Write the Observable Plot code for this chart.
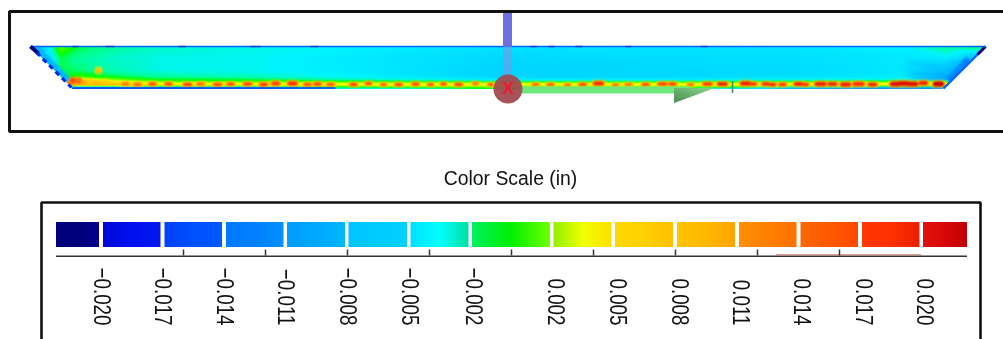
<!DOCTYPE html>
<html>
<head>
<meta charset="utf-8">
<script src="https://cdn.jsdelivr.net/npm/d3@7"></script>
<script src="https://cdn.jsdelivr.net/npm/@observablehq/plot@0.6"></script>
<style>
html,body{margin:0;padding:0;background:#fff;overflow:hidden}
svg{display:block}
</style>
</head>
<body>
<div id="chart"></div>
<script>
// Colour scale (deviation in inches)
const scaleValues = [-0.020,-0.017,-0.014,-0.011,-0.008,-0.005,-0.003,-0.001,0,0.002,0.003,0.005,0.008,0.011,0.014,0.017,0.020];
const scaleColors = ["#00007f","#0010e8","#0050ff","#0088ff","#00acff","#00ccff","#00f4ff","#00ff90","#00ff00","#80ff00","#f0ff00","#ffd000","#ffb000","#ff8000","#ff5000","#ff2800","#c80000"];

// Legend
const labelTexts = ["−0.020","−0.017","−0.014","−0.011","−0.008","−0.005","−0.002","0.002","0.005","0.008","0.011","0.014","0.017","0.020"];
const labelX = [101,162,224,285,347,409,473,555,617,679,740,801,863,924];
const tickX = [183,265,347,429,511,593,675,757,839];
const swatchX1 = [56,103,164.5,226,287,348.5,410.5,472,553.5,615,677,739,800.5,862,923];
const swatchX2 = [99,160.5,222,283.5,345,407,468.5,550,611.5,673,735,796.5,858,919.5,967];
const swatchLeft = ["#000080","#0008d8","#0040f8","#0078ff","#009cff","#00c4ff","#00e0ff","#00f060","#90f000","#ffd800","#ffc400","#ff9000","#ff6800","#ff3800","#e01010"];
const swatchMid = ["#000078","#0010f0","#0050ff","#0080ff","#00a8ff","#00ccff","#00ffff","#00f000","#f0ff00","#ffd000","#ffb800","#ff8000","#ff5800","#ff3000","#d80808"];
const swatchRight = ["#00008c","#0018f0","#0058ff","#0090ff","#00b8ff","#00d0ff","#00e0a0","#70ff00","#ffe000","#ffc000","#ffa400","#ff7000","#ff4800","#e82000","#c00000"];

// Surface deviation field, read on a coarse grid of the picture
const fieldX = [30,60,80,110,160,250,350,500,650,800,900,945,985];
const fieldY = [46,58,70,76,79,81,83,85,87,89];
const fieldRows = [
  [-0.010,0.0015,-0.0005,-0.001,-0.002,-0.0025,-0.003,-0.0038,-0.0038,-0.0036,-0.003,-0.0008,-0.0005],
  [-0.010,-0.0005,-0.0012,-0.002,-0.0026,-0.0028,-0.0035,-0.0044,-0.0042,-0.004,-0.0036,-0.0035,-0.006],
  [-0.010,-0.0005,-0.0008,-0.0016,-0.0026,-0.0028,-0.0034,-0.0046,-0.0044,-0.0042,-0.0036,-0.006,-0.010],
  [-0.008,0,0.0005,-0.0003,-0.0012,-0.0018,-0.003,-0.0045,-0.0044,-0.004,-0.0034,-0.008,-0.010],
  [-0.004,0.003,0.005,0.002,-0.0002,-0.0004,-0.0018,-0.0035,-0.0035,-0.0028,-0.0025,-0.008,-0.010],
  [-0.002,0.008,0.008,0.004,0.0015,0.0008,0.0004,-0.0005,-0.0005,-0.0002,0.0008,0.001,-0.010],
  [0,0.010,0.009,0.006,0.0035,0.0035,0.0035,0.0035,0.0035,0.0035,0.004,0.004,-0.010],
  [0,0.004,0.005,0.005,0.003,0.0028,0.0028,0.0028,0.0028,0.003,0.003,0.003,-0.010],
  [-0.010,-0.004,-0.006,-0.006,-0.006,-0.005,-0.001,0.001,0.001,-0.004,-0.008,-0.008,-0.010],
  [-0.012,-0.012,-0.012,-0.012,-0.012,-0.012,-0.004,0,0,-0.010,-0.012,-0.012,-0.012]
];

// Hot spots along the lower edge
const hotX = [125,137,152,168,187,200,217,230,247,263,275,292,307,317,330,353,368,383,398,415,430,443,458,475,490,
  535,550,567,582,598,615,628,645,662,672,690,707,722,745,753,765,772,782,798,805,820,832,845,858,872,895,903,912,923,938];
const hotY = [83.5,84,83.5,83.5,84,83.5,84,83.5,83.5,84,83,83,84,83.5,84,84,83,84,84,83.5,84,83.5,84,83,84,
  84,84,84.5,84,83,84.5,84,84,83.5,83.5,84,83.5,83.5,83,83.5,83.5,84,84,83.5,84,83.5,83.5,84,83.5,84,83.5,83,83.5,82.5,83.5];
const hotValue = [0.012,0.013,0.015,0.015,0.016,0.013,0.015,0.015,0.016,0.016,0.015,0.017,0.015,0.016,0.014,0.016,0.015,0.014,0.015,0.015,0.015,0.016,0.016,0.013,0.015,
  0.013,0.014,0.013,0.015,0.017,0.013,0.013,0.015,0.016,0.016,0.013,0.017,0.018,0.018,0.017,0.018,0.018,0.017,0.018,0.017,0.018,0.018,0.018,0.017,0.018,0.019,0.019,0.019,0.018,0.020];
const hotLength = [5,5,5,5,6,5,6,5,6,5,5,6,5,5,5,5,4,4,5,5,4,4,5,4,3,
  5,5,4,5,7,4,5,5,7,5,4,7,7,7,4,5,4,5,6,4,8,6,7,8,6,7,7,7,5,6];
const hotThickness = [3.5,3.5,3.5,3.5,3.5,3.5,3.5,3.5,3.5,4,4.5,4.5,3.5,3.5,3.5,3.5,3.5,3,3.5,3.5,3,3,3.5,3,3,
  3,3,3,3.5,4.5,3,3,3.5,3.5,3.5,3,3.5,4,4.5,3.5,3.5,3.5,3.5,4,3.5,4.5,4,4.5,4.5,4,5,5,5,4.5,5.5];

// Blobs near the left end
const blobX = [72,78,98,98,90,105];
const blobY = [80,80,70,70.5,81,81];
const blobValue = [0.014,0.012,0.004,0.007,0.005,0.005];
const blobSize = [4.5,4.5,5.5,3,3.5,3.5];

// Broad edge bands, under the white mask
const bandX1 = [35,968];
const bandY1 = [48,58];
const bandX2 = [68,948];
const bandY2 = [80,80];
const bandValue = [-0.007,-0.011];
const bandWidth = [7,6];

// Edge lines, over the mask
const edgeX1 = [72,985,985,30,30];
const edgeY1 = [87.5,46,46,46,46];
const edgeX2 = [335,943,977,985,38];
const edgeY2 = [87.5,88,54,46,53];
const edgeValue = [-0.015,-0.013,-0.020,-0.013,-0.020];
const edgeWidth = [1.6,2.4,3,1.6,4];

// Dashed lower-left edge
const dashX1 = [36];
const dashY1 = [52];
const dashX2 = [71];
const dashY2 = [87];

// Navy flecks on the upper edge
const fleckX = [72,105,178,250,310,530,548,575,625,700];
const fleckLength = [6,9,7,10,8,6,6,7,6,7];

const rasterPoints = fieldY.flatMap((y,r) => fieldX.map((x,c) => ({x,y,value:fieldRows[r][c]})));
const swatches = swatchX1.map((x1,i) => ({x1,x2:swatchX2[i],i}));
const hots = hotX.map((x,i) => ({x,y:hotY[i],v:hotValue[i],l:hotLength[i],t:hotThickness[i]}));
const blobs = blobX.map((x,i) => ({x,y:blobY[i],v:blobValue[i],r:blobSize[i]}));
const bands = bandX1.map((x1,i) => ({x1,y1:bandY1[i],x2:bandX2[i],y2:bandY2[i],v:bandValue[i],w:bandWidth[i]}));
const edges = edgeX1.map((x1,i) => ({x1,y1:edgeY1[i],x2:edgeX2[i],y2:edgeY2[i],v:edgeValue[i],w:edgeWidth[i]}));
const dashes = dashX1.map((x1,i) => ({x1,y1:dashY1[i],x2:dashX2[i],y2:dashY2[i]}));
const flecks = fleckX.map((x,i) => ({x,l:fleckLength[i]}));

const blur = (amount) => (index, scales, values, dims, ctx, next) => {
  const g = next(index, scales, values, dims, ctx);
  g.style.filter = `blur(${amount}px)`;
  return g;
};
const stretch = (index, scales, values, dims, ctx, next) => {
  const g = next(index, scales, values, dims, ctx);
  g.querySelectorAll("text").forEach(t => t.setAttribute("transform", t.getAttribute("transform") + " scale(1,1.3)"));
  g.style.filter = "blur(0.3px)";
  return g;
};

const defs = () => {
  const d = d3.create("svg:defs");
  swatchLeft.forEach((c,i) => {
    const g = d.append("linearGradient").attr("id","sw"+i);
    g.append("stop").attr("offset","0%").attr("stop-color",c);
    g.append("stop").attr("offset","50%").attr("stop-color",swatchMid[i]);
    g.append("stop").attr("offset","100%").attr("stop-color",swatchRight[i]);
  });
  const h = d.append("linearGradient").attr("id","head").attr("x1","0%").attr("y1","100%").attr("x2","100%").attr("y2","0%");
  h.append("stop").attr("offset","0%").attr("stop-color","#4e8a52");
  h.append("stop").attr("offset","100%").attr("stop-color","#88d890");
  return d.node();
};

const frameTop = [{x:1003,y:11},{x:9,y:11},{x:9,y:131},{x:1003,y:131}];
const frameLegend = [{x:41,y:339},{x:41,y:202},{x:980,y:202},{x:980,y:339}];
const maskLeft = [{x:28,y1:44,y2:92},{x:72,y1:88,y2:92}];
const maskRight = [{x:943,y1:88,y2:92},{x:987,y1:44,y2:92}];
const arrowHead = [{x:674,y1:88,y2:103},{x:715,y1:88,y2:88}];

const chart = Plot.plot({
  width:1003, height:339, margin:0,
  style:{background:"#fff", fontFamily:"'Liberation Sans',Arial,sans-serif"},
  x:{domain:[0,1003], range:[0,1003], axis:null},
  y:{domain:[0,339], range:[0,339], axis:null},
  color:{type:"linear", domain:scaleValues, range:scaleColors, clamp:true},
  marks:[
    defs,
    // surface
    Plot.raster(rasterPoints,{x:"x",y:"y",fill:"value",x1:30,x2:985,y1:46,y2:89,pixelSize:1,interpolate:"barycentric",imageRendering:"auto",render:blur(0.6)}),
    Plot.link(bands,{x1:"x1",y1:"y1",x2:"x2",y2:"y2",stroke:"v",strokeWidth:"w",render:blur(1.2)}),
    Plot.dot(blobs,{x:"x",y:"y",r:"r",fill:"v",render:blur(1.2)}),
    Plot.link(hots,{x1:d=>d.x-d.l/2-1,x2:d=>d.x+d.l/2+1,y1:"y",y2:"y",stroke:()=>0.004,strokeWidth:d=>d.t+1.5,strokeLinecap:"round",render:blur(1)}),
    Plot.link(hots,{x1:d=>d.x-d.l/2,x2:d=>d.x+d.l/2,y1:"y",y2:"y",stroke:"v",strokeWidth:"t",strokeLinecap:"round",render:blur(0.85)}),
    // white outside the trapezoid
    Plot.areaY(maskLeft,{x:"x",y1:"y1",y2:"y2",fill:"#fff"}),
    Plot.areaY(maskRight,{x:"x",y1:"y1",y2:"y2",fill:"#fff"}),
    Plot.ruleY([89.8],{x1:28,x2:505,stroke:"#fff",strokeWidth:2.5}),
    Plot.ruleY([89.8],{x1:700,x2:987,stroke:"#fff",strokeWidth:2.5}),
    // edges
    Plot.link(edges,{x1:"x1",y1:"y1",x2:"x2",y2:"y2",stroke:"v",strokeWidth:"w",render:blur(0.6)}),
    Plot.link(dashes,{x1:"x1",y1:"y1",x2:"x2",y2:"y2",stroke:()=>-0.016,strokeWidth:3,strokeDasharray:"5 4",render:blur(0.6)}),
    Plot.link(flecks,{x1:"x",x2:d=>d.x+d.l,y1:()=>46,y2:()=>46,stroke:()=>-0.019,strokeWidth:1.5,strokeOpacity:0.55,render:blur(0.5)}),
    // arrow, axis bar and origin marker
    Plot.rect([{}],{x1:522,x2:690,y1:86.5,y2:93.5,fill:"#6ee87a",render:blur(0.5)}),
    Plot.areaY(arrowHead,{x:"x",y1:"y1",y2:"y2",fill:"url(#head)",render:blur(0.5)}),
    Plot.ruleX([732],{y1:81,y2:93,stroke:"#3f8f6a",strokeWidth:1.6,render:blur(0.3)}),
    Plot.rect([{}],{x1:503,x2:512,y1:13,y2:46,fill:"#6e70e0",render:blur(0.4)}),
    Plot.rect([{}],{x1:503,x2:512,y1:46,y2:76,fill:"#8a8ee0",fillOpacity:0.55,render:blur(0.5)}),
    Plot.dot([{}],{x:()=>507.5,y:()=>88.5,r:14.5,fill:"#a14a50",fillOpacity:0.95,render:blur(0.5)}),
    Plot.text(["X"],{x:()=>507.5,y:()=>88,fontSize:17,fontWeight:"bold",fill:"#f0182a",render:blur(0.5)}),
    // frames
    Plot.line(frameTop,{x:"x",y:"y",stroke:"#111",strokeWidth:3,strokeLinejoin:"miter"}),
    Plot.line(frameLegend,{x:"x",y:"y",stroke:"#111",strokeWidth:2.6,strokeLinejoin:"miter"}),
    // legend
    Plot.text(["Color Scale (in)"],{x:()=>510,y:()=>178,fontSize:19.4,fill:"#111",render:blur(0.3)}),
    ...swatches.map(s => Plot.rect([s],{x1:"x1",x2:"x2",y1:()=>222,y2:()=>247,fill:`url(#sw${s.i})`,render:blur(0.4)})),
    Plot.ruleY([255.7],{x1:56,x2:967,stroke:"#333",strokeWidth:1.6}),
    Plot.ruleY([254.2],{x1:776,x2:921,stroke:"#c84020",strokeWidth:0.9,strokeOpacity:0.7}),
    Plot.ruleX(tickX,{y1:249.5,y2:255.5,stroke:"#333",strokeWidth:1.5}),
    Plot.text(labelTexts,{x:(d,i)=>labelX[i],y:()=>325,rotate:90,textAnchor:"end",lineAnchor:"middle",fontSize:18.8,fill:"#111",render:stretch})
  ]
});
document.getElementById("chart").append(chart);
</script>
</body>
</html>
